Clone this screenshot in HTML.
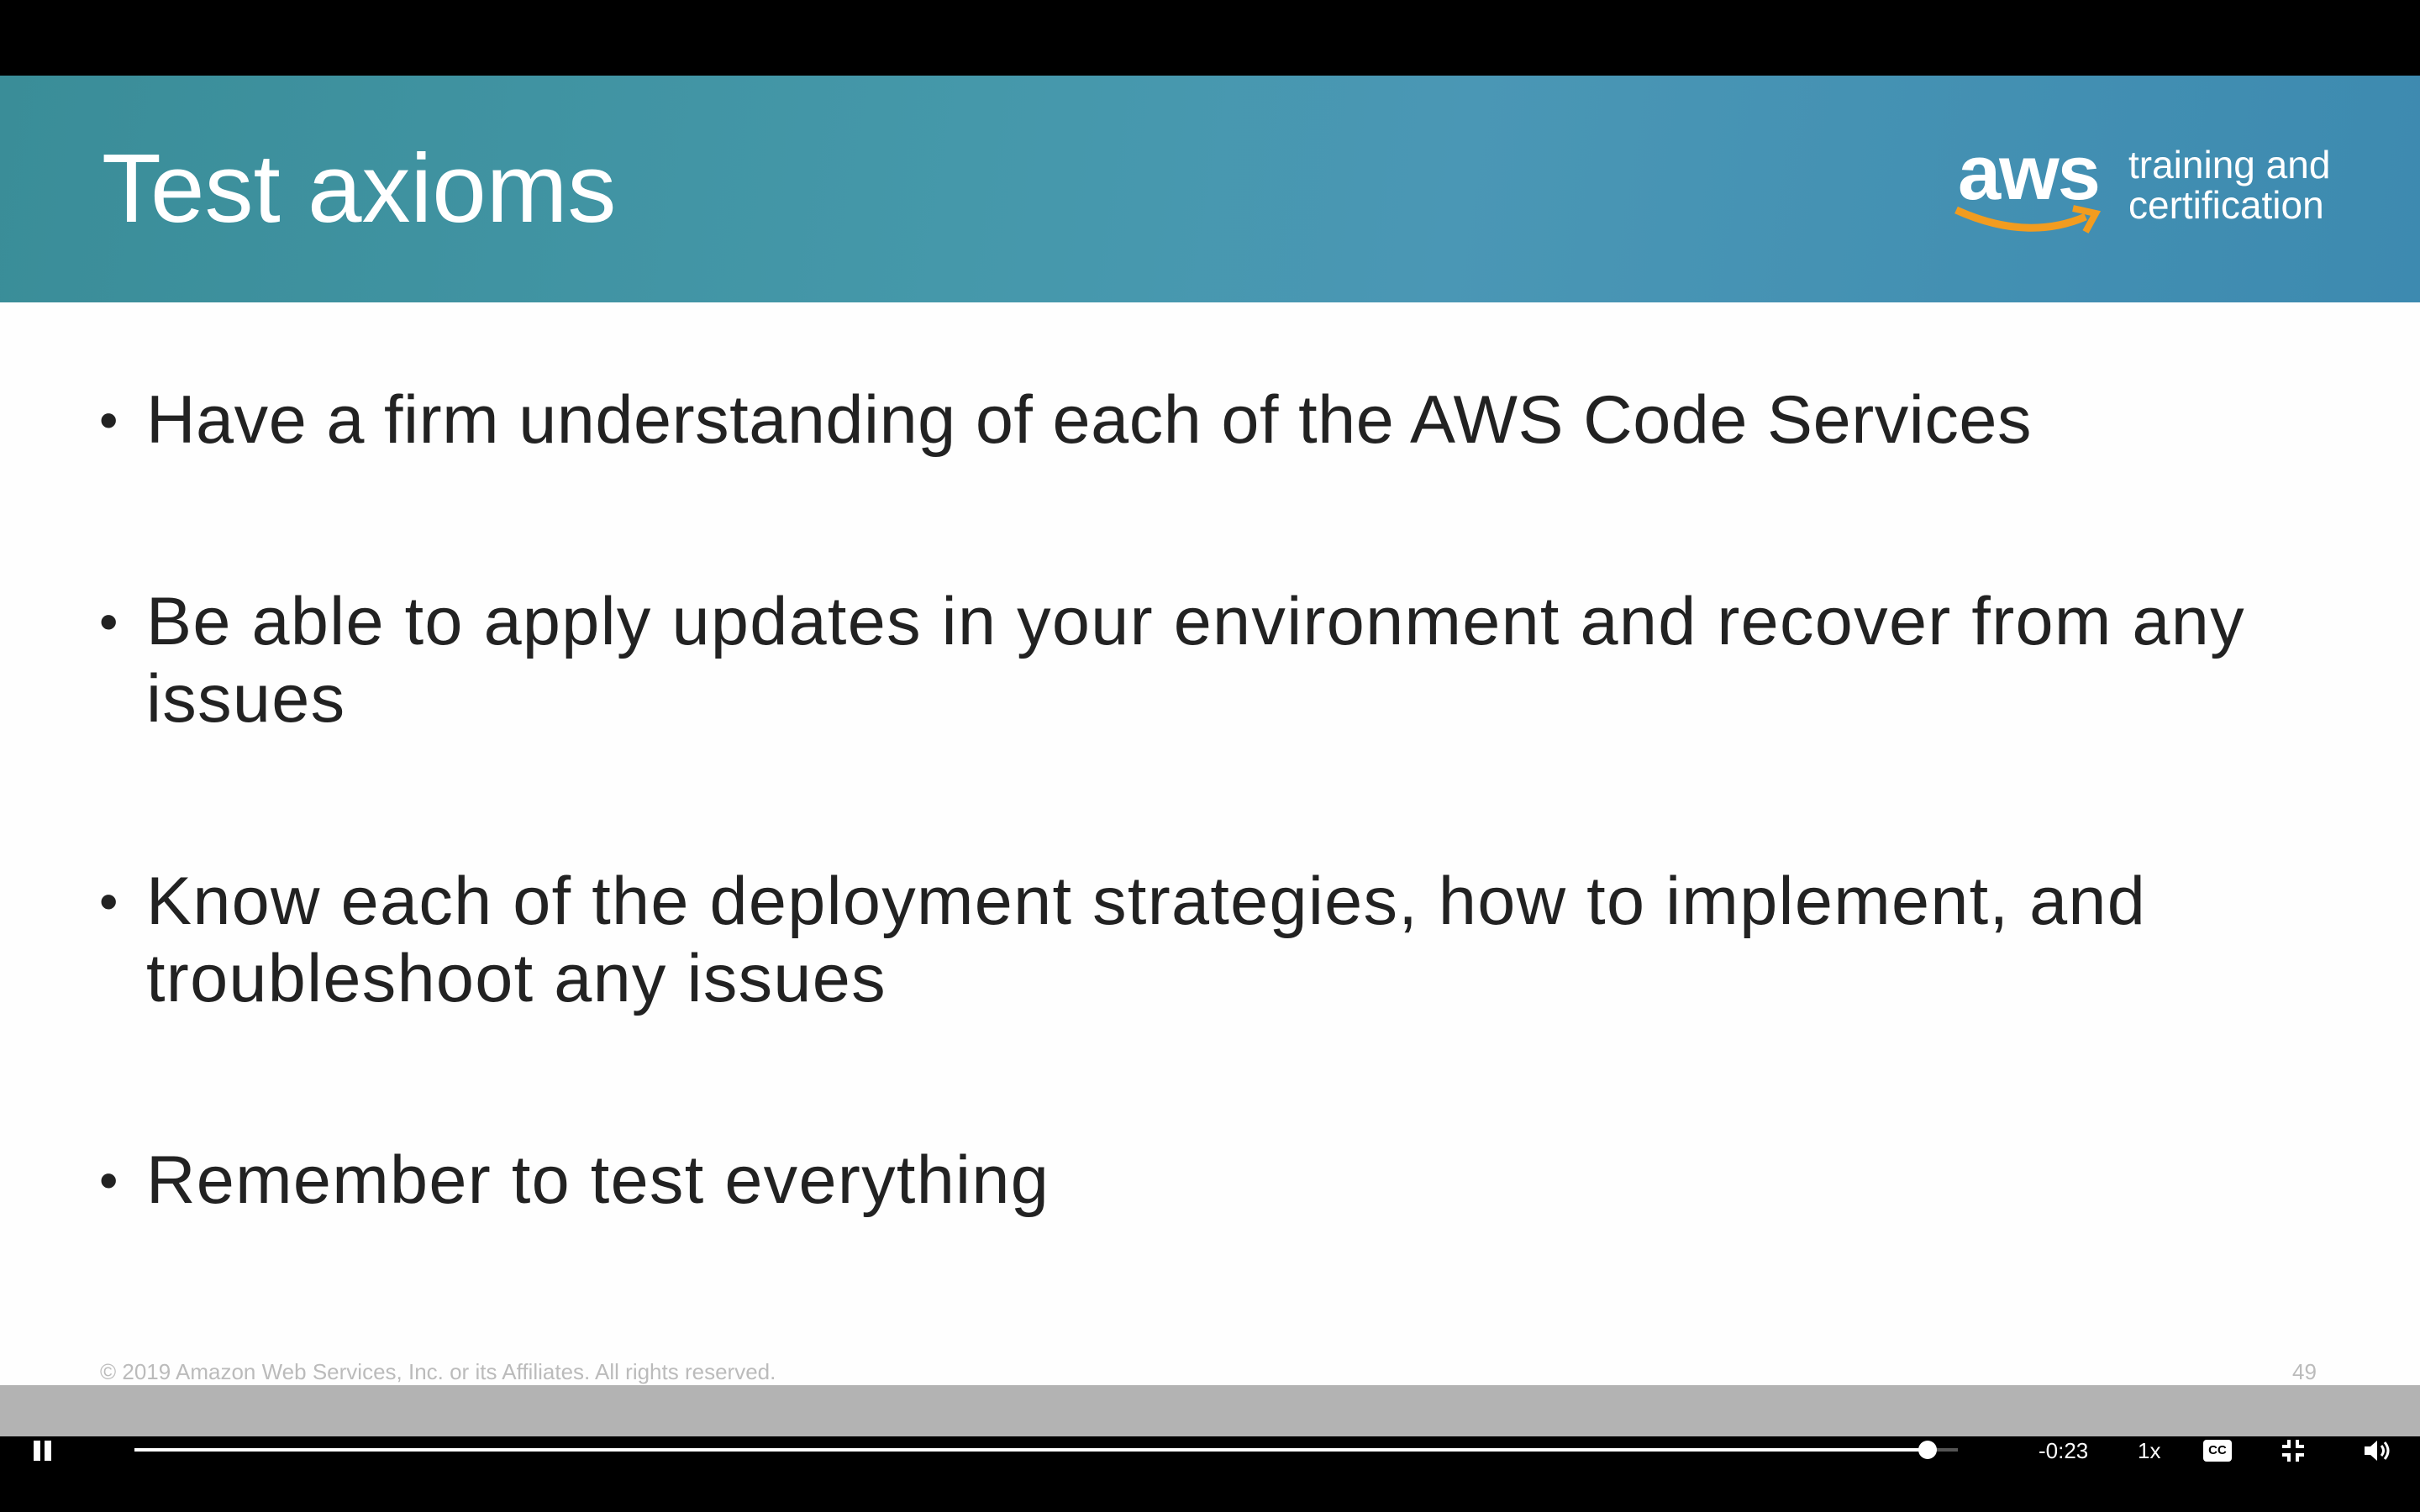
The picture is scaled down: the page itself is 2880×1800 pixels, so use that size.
<!DOCTYPE html>
<html><head><meta charset="utf-8"><style>
*{margin:0;padding:0;box-sizing:border-box}
body{width:2880px;height:1800px;position:relative;background:#000;overflow:hidden;font-family:"Liberation Sans","DejaVu Sans",sans-serif}
.hdr{position:absolute;left:0;top:90px;width:2880px;height:270px;background:linear-gradient(100deg,#3a8d98 0%,#4598aa 40%,#4a97b5 60%,#3d8ab0 100%)}
.title{position:absolute;left:121px;top:166px;font-size:116px;color:#fff;line-height:1}
.aws{position:absolute;left:2330px;top:160px;font-size:92px;font-weight:bold;color:#fff;line-height:1;letter-spacing:-2px}
.tc{position:absolute;left:2533px;top:172px;font-size:46px;color:#fff;line-height:48px}
.main{position:absolute;left:0;top:360px;width:2880px;height:1289px;background:#fefefe}
.b{position:absolute;left:174px;font-size:81px;color:#222;line-height:92px;white-space:nowrap;letter-spacing:1.3px}
.b:before{content:"•";position:absolute;left:-56px;font-size:64px}
.foot{position:absolute;top:1618px;font-size:26px;color:#bbb}
.gray{position:absolute;left:0;top:1649px;width:2880px;height:61px;background:#b3b3b3}
.ctl{position:absolute;color:#fff;font-size:26px;top:1712px}
</style></head><body>
<div class="hdr"></div>
<div class="title">Test axioms</div>
<div class="aws">aws</div>
<svg style="position:absolute;left:2322px;top:238px" width="186" height="50"><path d="M6 12 Q90 50 160 20" stroke="#f29c1f" stroke-width="9" fill="none"/><path d="M145 10 L172 16 L160 38" stroke="#f29c1f" stroke-width="8" fill="none"/></svg>
<div class="tc">training and<br>certification</div>
<div class="main"></div>
<div class="b" style="top:454px;letter-spacing:0.55px">Have a firm understanding of each of the AWS Code Services</div>
<div class="b" style="top:694px">Be able to apply updates in your environment and recover from any<br>issues</div>
<div class="b" style="top:1027px">Know each of the deployment strategies, how to implement, and<br>troubleshoot any issues</div>
<div class="b" style="top:1359px">Remember to test everything</div>
<div class="foot" style="left:119px">© 2019 Amazon Web Services, Inc. or its Affiliates. All rights reserved.</div>
<div class="foot" style="left:2728px">49</div>
<div class="gray"></div>
<div style="position:absolute;left:40px;top:1715px;width:8px;height:24px;background:#fff"></div>
<div style="position:absolute;left:53px;top:1715px;width:8px;height:24px;background:#fff"></div>
<div style="position:absolute;left:160px;top:1724px;width:2170px;height:4px;background:#555"></div>
<div style="position:absolute;left:160px;top:1724px;width:2134px;height:4px;background:#fff"></div>
<div style="position:absolute;left:2283px;top:1715px;width:22px;height:22px;border-radius:50%;background:#fff"></div>
<div class="ctl" style="left:2426px">-0:23</div>
<div class="ctl" style="left:2544px">1x</div>
<div style="position:absolute;left:2622px;top:1714px;width:34px;height:26px;background:#fff;border-radius:4px;font-size:15px;font-weight:bold;color:#000;text-align:center;line-height:26px">CC</div>
<svg style="position:absolute;left:2714px;top:1712px" width="30" height="30" stroke="#fff" stroke-width="4" fill="none"><path d="M10 2V10H2M20 2V10H28M10 28V20H2M20 28V20H28"/></svg>
<svg style="position:absolute;left:2812px;top:1712px" width="36" height="30" fill="#fff"><path d="M2 10H9L17 3V27L9 20H2Z"/><path d="M22 9Q27 15 22 21M26 5Q34 15 26 25" stroke="#fff" stroke-width="3" fill="none"/></svg>
</body></html>
